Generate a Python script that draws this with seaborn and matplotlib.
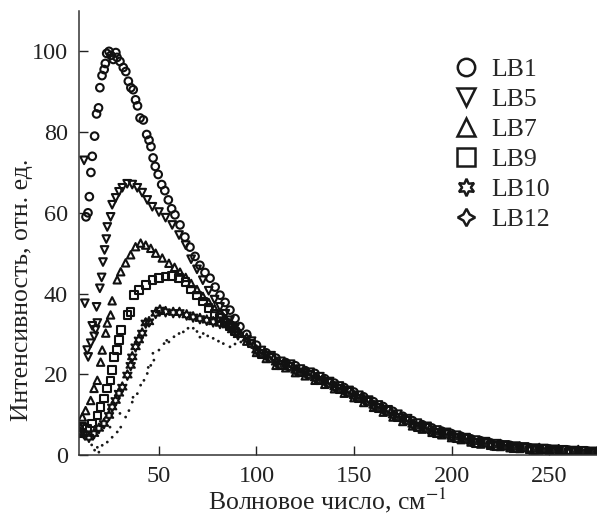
import numpy as np
import pandas as pd
import seaborn as sns
import matplotlib.pyplot as plt
from matplotlib.lines import Line2D

# Raman low-frequency spectra, intensity in arb. units vs wavenumber (cm^-1)

# common wavenumber grids of the tail (all spectra overlap there)
tail_x_a = [95, 100, 105, 110, 115, 120, 125, 130, 135, 140, 145, 150, 155,
            160, 165, 170, 175, 180, 185, 190, 195, 200, 205, 210, 215, 220,
            225, 230, 235, 240, 245, 250, 255, 260, 265, 270, 275]
tail_x_b = [97.5, 102.5, 107.5, 112.5, 117.5, 122.5, 127.5, 132.5, 137.5,
            142.5, 147.5, 152.5, 157.5, 162.5, 167.5, 172.5, 177.5, 182.5,
            187.5, 192.5, 197.5, 202.5, 207.5, 212.5, 217.5, 222.5, 227.5,
            232.5, 237.5, 242.5, 247.5, 252.5, 257.5, 262.5, 267.5, 272.5]

lb1_x = [12.6, 13.6, 14.3, 15.1, 15.8, 17.0, 18.0, 19.0, 19.7, 20.8, 21.9, 22.5,
         23.2, 24.4, 25.4, 26.6, 27.9, 28.5, 30.0, 31.7, 33.0, 34.3, 35.6, 36.8,
         38.0, 39.0, 40.3, 42.0, 43.7, 44.9, 45.9, 47.0, 48.1, 49.6, 51.4, 53.0,
         54.8, 56.5, 58.2, 60.8, 63.3, 65.9, 68.5, 71.0, 73.6, 76.2, 78.8, 81.3,
         83.9, 86.4, 89.0, 91.5]
lb1_y = [59, 60, 64, 70, 74, 79, 84.5, 86, 91, 94, 95.5, 97, 99.5, 100, 99, 98,
         99.7, 98.5, 97.5, 96, 95, 92.6, 91, 90.5, 88, 86.5, 83.5, 83, 79.4, 78,
         76.4, 73.6, 71.5, 69.5, 67, 65.5, 63.2, 61, 59.5, 57, 54, 51.5, 49.2,
         47, 45.2, 43.8, 41.6, 39.6, 37.8, 35.9, 33.8, 31.8]
lb1_tail = [29.9, 27.2, 25.3, 24.0, 22.9, 22.1, 20.9, 20.2, 18.9, 17.8, 16.7,
            15.6, 14.4, 13.2, 12.0, 10.8, 9.6, 8.5, 7.5, 6.7, 5.9, 5.3, 4.6, 4.0,
            3.5, 3.0, 2.7, 2.4, 2.0, 1.8, 1.6, 1.5, 1.3, 1.2, 1.0, 0.9, 0.8]

lb5_x = [11.6, 12.0, 13.2, 13.7, 15.0, 15.8, 16.8, 17.5, 18.0, 18.4, 19.7, 20.6,
         21.3, 22.1, 23.0, 23.5, 25.2, 26.0, 27.8, 29.5, 31.2, 33.7, 36.3, 38.9,
         41.4, 44.0, 46.6, 50.0, 53.4, 56.8, 60.3, 63.7, 66.5, 69.5, 72.5, 75.5,
         78.5, 81.3, 84.0, 86.4, 89.0]
lb5_y = [73, 37.6, 26, 24.3, 27.7, 32, 29.4, 31, 36.7, 32.7, 41.3, 44, 47.8,
         50.8, 53.5, 56.5, 59, 62, 63.7, 65.2, 66.2, 67.2, 67, 66.2, 65, 63.2,
         61.5, 60.2, 58.8, 57, 54.5, 52, 48.5, 46, 43.3, 40.7, 38.5, 36.7, 35,
         33.4, 31.5]
lb5_tail = [28.2, 25.9, 24.6, 23.2, 22.5, 21.3, 20.5, 19.4, 18.2, 17.1, 16.0,
            14.8, 13.6, 12.4, 11.2, 10.1, 9.0, 7.9, 7.1, 6.2, 5.6, 4.9, 4.3, 3.7,
            3.3, 2.8, 2.5, 2.2, 2.0, 1.7, 1.6, 1.4, 1.25, 1.1, 1.0, 0.9]

lb7_x = [9.8, 10.7, 12.4, 15.0, 16.7, 18.4, 20.1, 20.9, 22.7, 23.5, 25.2, 26.0,
         28.6, 30.4, 32.9, 35.5, 38.0, 40.6, 43.2, 45.8, 48.3, 51.7, 55.1, 58.0,
         60.8, 63.7, 66.5, 69.5, 72.5, 75.5, 78.5, 81.3, 84.0, 86.4, 89.0, 91.5]
lb7_y = [6.9, 9.4, 11, 13.5, 16.5, 18.5, 23, 26, 30.2, 32.7, 34.7, 38.2, 43.4,
         45.4, 47.6, 49.6, 51.6, 52.5, 52, 51.2, 50, 48.8, 47.5, 46.5, 45.3, 44,
         42.5, 41, 39.3, 37.8, 36.3, 35, 33.8, 32.6, 31.4, 30.2]
lb7_tail = [28.2, 25.4, 23.9, 22.2, 21.6, 20.4, 19.6, 18.5, 17.5, 16.4, 15.3,
            14.2, 13.0, 11.8, 10.6, 9.4, 8.3, 7.2, 6.4, 5.6, 5.0, 4.3, 3.8, 3.2,
            2.7, 2.4, 2.1, 1.8, 1.6, 1.4, 1.2, 1.1, 0.9, 0.8, 0.7, 0.6, 0.5]

lb9_x = [9.8, 10.7, 13.2, 15.8, 18.4, 20.1, 21.8, 23.5, 25.2, 26.0, 26.9, 28.6,
         29.5, 30.4, 33.8, 35.5, 37.2, 39.7, 43.2, 46.6, 50.0, 53.4, 56.8, 60.3,
         63.7, 66.5, 69.5, 72.5, 75.5, 78.5, 81.3, 84.0, 86.4, 89.0]
lb9_y = [5.3, 6.9, 6.6, 7.8, 9.8, 11.9, 14, 16.5, 18.5, 21, 24.3, 26, 28.5, 31,
         34.7, 35.5, 39.6, 40.9, 42.1, 43.4, 43.8, 44.2, 44.3, 43.8, 42.8, 41,
         39.5, 38, 36.4, 35, 33.9, 32.8, 31.8, 30.6]
lb9_tail = [27.6, 25.0, 24.0, 22.3, 21.9, 20.4, 19.9, 18.5, 17.8, 16.3, 15.6,
            14.0, 13.3, 11.6, 10.9, 9.3, 8.5, 7.0, 6.7, 5.4, 5.3, 4.2, 4.1, 3.0,
            3.1, 2.3, 2.4, 1.7, 1.9, 1.3, 1.5, 1.0, 1.2, 0.8, 1.0, 0.6]

lb10_x = [9.8, 11.5, 14.1, 16.7, 19.2, 21.8, 24.4, 26.0, 27.8, 29.5, 31.2, 33.8,
          35.5, 36.3, 38.0, 39.7, 41.4, 43.2, 44.9, 48.3, 50.5, 53.4, 57.3, 60.5,
          64.2, 67.5, 71.0, 74.5, 77.8, 81.3, 84.7, 87.5, 90.5]
lb10_y = [5.7, 5.3, 4.4, 5.3, 6.6, 7.8, 9.8, 11.9, 13.5, 15.3, 16.8, 19.8, 22.2,
          24.3, 26.8, 28.5, 30.2, 32.7, 33, 35.1, 35.9, 35.5, 35.3, 35.3, 34.7,
          34.2, 33.8, 33.4, 33, 32.6, 32.2, 31, 29.8]
lb10_tail = [28.9, 26.0, 24.7, 23.0, 22.4, 21.0, 20.4, 19.1, 18.3, 16.9, 16.0,
             14.7, 13.8, 12.3, 11.3, 9.9, 9.0, 7.6, 7.1, 5.9, 5.6, 4.6, 4.4, 3.4,
             3.3, 2.5, 2.6, 1.9, 2.0, 1.4, 1.6, 1.1, 1.3, 0.9, 1.1, 0.7, 0.9]

lb12_x = [15.5, 17.0, 18.4, 19.2, 20.9, 23.5, 24.9, 26.0, 28.6, 30.0, 30.4, 32.9,
          34.6, 36.3, 36.7, 38.9, 40.6, 42.3, 44.0, 44.5, 45.8, 46.9, 47.4, 50.0,
          52.6, 54.0, 55.1, 57.7, 60.3, 62.5, 64.9, 67.6, 69.5, 71.0, 72.7, 75.0,
          77.8, 80.5, 83.0, 86.4, 89.0, 92.0]
lb12_y = [2.5, 1.2, 1.9, 0.7, 2.4, 3.2, 6.9, 4.4, 5.7, 10.3, 6.9, 9.4, 11, 13.1,
          14.3, 15.2, 17.3, 18.5, 20.2, 21.7, 22.2, 25.2, 23.5, 26, 27.6, 28.4,
          28, 29.3, 30.1, 30.5, 31.4, 31.4, 30.6, 29.2, 30.1, 29.5, 28.9, 28.2,
          27.6, 26.8, 27.5, 28.0]
lb12_tail = [26.6, 24.6, 23.1, 21.9, 21.0, 20.0, 19.0, 18.1, 17.0, 15.9, 14.8,
             13.6, 12.4, 11.2, 10.0, 8.9, 7.8, 6.7, 5.9, 5.2, 4.6, 4.0, 3.4, 2.9,
             2.5, 2.1, 1.8, 1.6, 1.4, 1.2, 1.1, 0.9, 0.8, 0.7, 0.6, 0.5]

labels = ['LB1', 'LB5', 'LB7', 'LB9', 'LB10', 'LB12']

###################################################################################################

spectra = {
    'LB1': pd.DataFrame({'x': lb1_x + tail_x_a, 'y': lb1_y + lb1_tail}),
    'LB5': pd.DataFrame({'x': lb5_x + tail_x_b, 'y': lb5_y + lb5_tail}),
    'LB7': pd.DataFrame({'x': lb7_x + tail_x_a, 'y': lb7_y + lb7_tail}),
    'LB9': pd.DataFrame({'x': lb9_x + tail_x_b, 'y': lb9_y + lb9_tail}),
    'LB10': pd.DataFrame({'x': lb10_x + tail_x_a, 'y': lb10_y + lb10_tail}),
    'LB12': pd.DataFrame({'x': lb12_x + tail_x_b, 'y': lb12_y + lb12_tail}),
}

# marker in plot, size in plot, marker in legend
styles = {
    'LB1': ('o', 30, 'o'),
    'LB5': ('v', 30, 'v'),
    'LB7': ('^', 28, '^'),
    'LB9': ('s', 30, 's'),
    'LB10': ((6, 1, 0), 48, (6, 1, 0)),
    'LB12': ('o', 4, (4, 1, 0)),
}

sns.set_style('ticks')
plt.rcParams['font.family'] = ['Liberation Serif', 'DejaVu Serif']
plt.rcParams['mathtext.fontset'] = 'stix'

fig = plt.figure(figsize=(5.97, 5.14), dpi=100)
ax = fig.add_axes([79 / 597, 1 - 455 / 514, 518 / 597, 444 / 514])

for name in labels:
    df = spectra[name]
    marker, size, _ = styles[name]
    if name == 'LB12':
        sns.scatterplot(data=df, x='x', y='y', ax=ax, marker=marker, s=size,
                        color='#1a1a1a', edgecolor='none', legend=False)
    else:
        sns.scatterplot(data=df, x='x', y='y', ax=ax, marker=marker, s=size,
                        facecolors='none', edgecolor='#111111', linewidth=1.5,
                        legend=False)

ax.set_xlim(9, 274.6)
ax.set_ylim(0, 110)
ax.set_xticks([50, 100, 150, 200, 250])
ax.set_yticks([0, 20, 40, 60, 80, 100])
ax.tick_params(direction='in', length=6.5, width=1, labelsize=17.5, pad=8,
               colors='#222222')
for side in ['top', 'right']:
    ax.spines[side].set_visible(False)
for side in ['left', 'bottom']:
    ax.spines[side].set_linewidth(1.1)
    ax.spines[side].set_color('#333333')

ax.set_xlabel('Волновое число, см$^{-1}$', fontsize=18.5, color='#222222',
              va='baseline')
ax.set_ylabel('Интенсивность, отн. ед.', fontsize=18.5, color='#222222')
ax.xaxis.set_label_coords(0.479, -0.122)
ax.yaxis.set_label_coords(-0.088, 0.372)

handles = [Line2D([], [], linestyle='none', marker=styles[n][2], markersize=12.5,
                  markerfacecolor='none', markeredgecolor='#1a1a1a',
                  markeredgewidth=1.8) for n in labels]
ax.legend(handles, labels, frameon=False, fontsize=18.5, loc='upper left',
          bbox_to_anchor=(453 / 597, 1 - 58 / 514), bbox_transform=fig.transFigure,
          borderpad=0, borderaxespad=0, handlelength=1.0, handletextpad=0.5,
          labelspacing=0.27)

fig.savefig('out.png', dpi=100)
